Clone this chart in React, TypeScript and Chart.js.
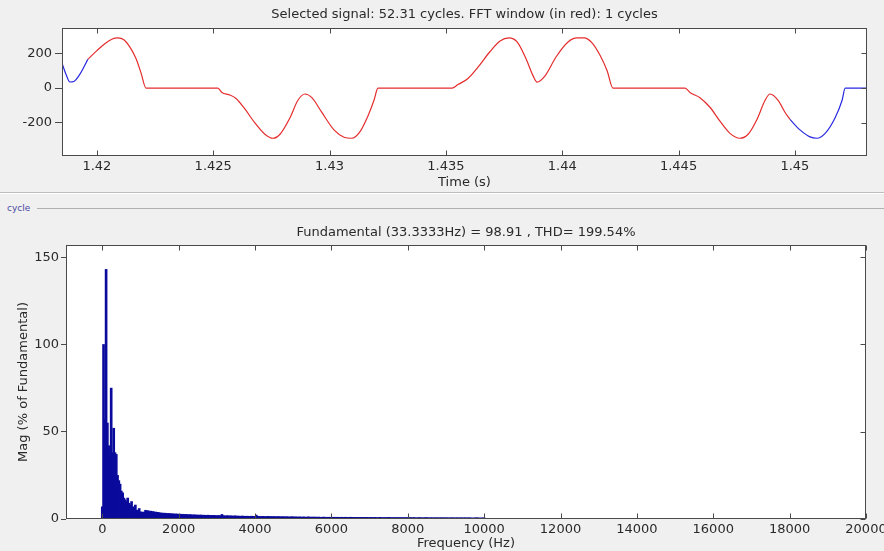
import React, { useEffect, useRef } from "react";
import { Chart, registerables } from "chart.js";

Chart.register(...registerables);

// ---------- text ----------
const SIGNAL_TITLE = "Selected signal: 52.31 cycles. FFT window (in red): 1 cycles";
const SIGNAL_X_TITLE = "Time (s)";
const FFT_TITLE = "Fundamental (33.3333Hz) = 98.91 , THD= 199.54%";
const FFT_X_TITLE = "Frequency (Hz)";
const FFT_Y_TITLE = "Mag (% of Fundamental)";
const SIDE_TEXT = "cycle";

// ---------- ticks ----------
const timeTicks = [1.42, 1.425, 1.43, 1.435, 1.44, 1.445, 1.45];
const timeTickLabels = ["1.42", "1.425", "1.43", "1.435", "1.44", "1.445", "1.45"];
const signalTicks = [-200, 0, 200];
const freqTicks = [0, 2000, 4000, 6000, 8000, 10000, 12000, 14000, 16000, 18000, 20000];
const magTicks = [0, 50, 100, 150];

// ---------- signal (time s, value) ----------
const blueStartTime = [1.4185, 1.41867, 1.41884, 1.41901, 1.41927, 1.41961];
const blueStartValue = [143, 80, 35, 38, 80, 165];

const redTime = [
  1.41961, 1.42, 1.42034, 1.42064, 1.4209, 1.42116, 1.42142, 1.42168, 1.42189, 1.42211,
  1.4252, 1.42537, 1.42572, 1.42598, 1.42636, 1.42679, 1.42722, 1.42757, 1.42787, 1.4283,
  1.42864, 1.42894, 1.42924, 1.42967, 1.43019, 1.43062, 1.43096, 1.43131, 1.43165, 1.43191,
  1.43208, 1.43526, 1.43552, 1.43595, 1.43638, 1.4369, 1.43733, 1.43771, 1.43806, 1.43844,
  1.43875, 1.43892, 1.43926, 1.43974, 1.44025, 1.44064, 1.44094, 1.44128, 1.44162, 1.44193,
  1.44218, 1.44528, 1.44549, 1.44592, 1.44635, 1.44678, 1.44721, 1.44764, 1.44799, 1.44837,
  1.44872, 1.44893, 1.44928, 1.44958, 1.44979,
];
const redValue = [
  165, 215, 255, 280, 288, 278, 235, 170, 90, 0,
  0, -25, -40, -60, -120, -200, -265, -288, -265, -170,
  -70, -34, -55, -140, -240, -282, -288, -250, -160, -70,
  0, 0, 20, 55, 120, 210, 270, 288, 265, 170,
  70, 34, 70, 180, 265, 288, 288, 260, 190, 100,
  0, 0, -25, -55, -110, -190, -260, -288, -265, -180,
  -70, -34, -70, -140, -180,
];

const blueEndTime = [1.44979, 1.45022, 1.45065, 1.45095, 1.4513, 1.45173, 1.45203, 1.45216, 1.4531];
const blueEndValue = [-180, -240, -280, -288, -260, -170, -70, 0, 0];

// ---------- FFT harmonic magnitudes (% of fundamental), order 0..300 ----------
const harmonicMagLow = [
  7, 100, 57, 143, 55, 42, 36, 75, 38, 52,
  38, 37, 25, 22, 20, 16, 15, 12, 11, 10,
  12, 9, 8, 10, 7, 6, 8, 5, 5, 6,
  4, 4, 3.5, 4, 5, 4.5, 4.8, 4.2, 4.5, 4,
  4.3, 3.8, 4, 3.6, 3.8, 3.4,
];
const harmonicMagMid = [
  3.5, 3.2, 3.4, 3.1, 3.3, 3.0, 3.2, 2.9, 3.1, 2.8,
  3.0, 2.7, 2.9, 2.8, 2.6, 2.8, 2.5, 2.7, 2.6, 2.4,
  2.6, 2.5, 2.3, 2.5, 2.4, 2.2, 2.4, 2.3, 2.2, 2.3,
  2.1, 2.3, 2.2, 2.0, 2.2, 2.1, 2.0, 2.2, 1.9, 2.1,
  2.0, 1.9, 2.1, 1.9, 1.8, 2.0, 1.9, 1.8, 2.6, 1.9,
  1.8, 1.7, 1.9, 1.8, 1.7, 1.8, 1.7, 1.6, 1.8, 1.7,
];
const harmonicMagHigh = [
  1.6, 1.7, 1.5, 1.6, 1.7, 1.5, 1.6, 1.4, 1.6, 1.5, 1.4, 1.6, 1.5, 1.4, 1.5,
  2.2, 1.4, 1.5, 1.3, 1.4, 1.5, 1.3, 1.4, 1.3, 1.5, 1.4, 1.3, 1.4, 1.2, 1.4,
  1.3, 1.2, 1.4, 1.3, 1.2, 1.3, 1.2, 1.3, 1.1, 1.3, 1.2, 1.1, 1.2, 1.3, 1.1,
  1.2, 1.1, 1.2, 1.0, 1.2, 1.1, 1.0, 1.2, 1.1, 1.0, 1.1, 1.2, 1.0, 1.1, 1.0,
  1.1, 1.0, 1.1, 0.9, 1.1, 1.0, 0.9, 1.0, 1.1, 0.9, 1.0, 0.9, 1.0, 1.0, 0.9,
  1.0, 0.9, 1.0, 0.9, 1.0, 0.9, 0.9, 1.0, 0.8, 0.9, 1.0, 0.9, 0.8, 0.9, 1.0,
  0.9, 0.8, 0.9, 0.9, 0.8, 0.9, 0.8, 0.9, 0.9, 0.8, 0.9, 0.8, 0.9, 0.8, 0.8,
  0.9, 0.8, 0.8, 0.9, 0.8, 0.7, 0.8, 0.9, 0.8, 0.7, 0.8, 0.8, 0.7, 0.8, 0.9,
  0.8, 0.7, 0.8, 0.7, 0.8, 0.8, 0.7, 0.8, 0.7, 0.8, 0.7, 0.7, 0.8, 0.7, 0.8,
  0.7, 0.8, 0.7, 0.7, 0.8, 0.7, 0.6, 0.7, 0.8, 0.7, 0.7, 0.6, 0.7, 0.8, 0.7,
  0.7, 0.6, 0.7, 0.7, 0.6, 0.7, 0.7, 0.6, 0.7, 0.6, 0.7, 0.7, 0.6, 0.7, 0.6,
  0.7, 0.6, 0.6, 0.7, 0.6, 0.7, 0.6, 0.6, 0.7, 0.6, 0.6, 0.7, 0.6, 0.6, 0.7,
  0.6, 0.6, 0.7, 0.6, 0.6, 0.5, 0.6, 0.6, 0.7, 0.6, 0.6, 0.5, 0.6, 0.6, 0.6,
];
const FUNDAMENTAL_HZ = 33.3333;

// ---------- styling ----------
const FONT = "DejaVu Sans";
const FS = 13;
const TEXT = "#2a2a2a";
const AXIS = "#4a4a4a";
const RED = "rgb(228,44,44)";
const BLUE = "rgb(40,40,225)";
const BAR = "#0a0a9c";

const zip = (xs: number[], ys: number[]) => xs.map((x, i) => ({ x, y: ys[i] }));

const matlabAxes = {
  id: "matlabAxes",
  afterLayout(chart: any) {
    // center the title over the axes box, as MATLAB does
    if (chart.titleBlock) {
      chart.titleBlock.left = chart.chartArea.left;
      chart.titleBlock.right = chart.chartArea.right;
    }
  },
  beforeDraw(chart: any) {
    const { ctx, chartArea: a } = chart;
    ctx.save();
    ctx.fillStyle = "#ffffff";
    ctx.fillRect(a.left, a.top, a.right - a.left, a.bottom - a.top);
    ctx.restore();
  },
  afterDraw(chart: any) {
    const { ctx, chartArea: a, scales } = chart;
    const L = Math.round(a.left) + 0.5;
    const R = Math.round(a.right) - 0.5;
    const T = Math.round(a.top) + 0.5;
    const B = Math.round(a.bottom) - 0.5;
    const len = 5;
    ctx.save();
    ctx.strokeStyle = AXIS;
    ctx.lineWidth = 1;
    ctx.strokeRect(L, T, R - L, B - T);
    ctx.beginPath();
    scales.x.ticks.forEach((t: any) => {
      const px = Math.round(scales.x.getPixelForValue(t.value)) + 0.5;
      ctx.moveTo(px, T);
      ctx.lineTo(px, T + len);
      ctx.moveTo(px, B);
      ctx.lineTo(px, B - len);
    });
    scales.y.ticks.forEach((t: any) => {
      const py = Math.round(scales.y.getPixelForValue(t.value)) + 0.5;
      ctx.moveTo(R, py);
      ctx.lineTo(R - len, py);
    });
    ctx.stroke();
    ctx.restore();
  },
};

const tickFont = { family: FONT, size: FS };
const titleFont = { family: FONT, size: FS, weight: "normal" as any, lineHeight: 1.2 };

function SignalChart() {
  const ref = useRef<HTMLCanvasElement>(null);
  useEffect(() => {
    const chart = new Chart(ref.current as HTMLCanvasElement, {
      type: "line",
      data: {
        datasets: [
          { data: zip(blueStartTime, blueStartValue), borderColor: BLUE, borderWidth: 1.2, pointRadius: 0, cubicInterpolationMode: "monotone" },
          { data: zip(redTime, redValue), borderColor: RED, borderWidth: 1.2, pointRadius: 0, cubicInterpolationMode: "monotone" },
          { data: zip(blueEndTime, blueEndValue), borderColor: BLUE, borderWidth: 1.2, pointRadius: 0, cubicInterpolationMode: "monotone" },
        ],
      } as any,
      options: {
        animation: false,
        responsive: false,
        maintainAspectRatio: false,
        layout: { padding: { left: 0, right: 17, top: 0, bottom: 0 } },
        plugins: {
          legend: { display: false },
          tooltip: { enabled: false },
          title: {
            display: true,
            text: SIGNAL_TITLE,
            color: TEXT,
            font: titleFont,
            padding: { top: 7.2, bottom: 5.2 },
          },
        },
        scales: {
          x: {
            type: "linear",
            min: 1.4185,
            max: 1.4531,
            afterBuildTicks: (s: any) => { s.ticks = timeTicks.map((v) => ({ value: v })); },
            afterFit: (s: any) => { s.height = 36; s.paddingLeft = 0; s.paddingRight = 0; },
            grid: { display: false, drawTicks: false },
            border: { display: false },
            ticks: {
              color: TEXT,
              font: tickFont,
              padding: 3,
              maxRotation: 0,
              autoSkip: false,
              callback: (v: any) => {
                const i = timeTicks.findIndex((t) => Math.abs(t - Number(v)) < 1e-9);
                return i >= 0 ? timeTickLabels[i] : "";
              },
            },
            title: { display: true, text: SIGNAL_X_TITLE, color: TEXT, font: titleFont, padding: { top: 0, bottom: 1.2 } },
          },
          y: {
            type: "linear",
            min: -390,
            max: 345,
            afterBuildTicks: (s: any) => { s.ticks = signalTicks.map((v) => ({ value: v })); },
            afterFit: (s: any) => { s.width = 62; },
            grid: { drawOnChartArea: false, drawTicks: true, tickLength: 7, color: AXIS },
            border: { display: false },
            ticks: { color: TEXT, font: tickFont, padding: 3 },
          },
        },
      },
      plugins: [matlabAxes],
    } as any);
    return () => chart.destroy();
  }, []);
  return <canvas ref={ref} width={884} height={192} style={{ position: "absolute", left: 0, top: 0 }} />;
}

function FftChart() {
  const ref = useRef<HTMLCanvasElement>(null);
  useEffect(() => {
    const harmonicMag = [...harmonicMagLow, ...harmonicMagMid, ...harmonicMagHigh];
    const bars = harmonicMag.map((m, order) => ({ x: order * FUNDAMENTAL_HZ, y: m }));
    const chart = new Chart(ref.current as HTMLCanvasElement, {
      type: "bar",
      data: {
        datasets: [
          { data: bars, backgroundColor: BAR, borderWidth: 0, barThickness: 2 },
        ],
      } as any,
      options: {
        animation: false,
        responsive: false,
        maintainAspectRatio: false,
        layout: { padding: { left: 0, right: 18, top: 0, bottom: 0 } },
        plugins: {
          legend: { display: false },
          tooltip: { enabled: false },
          title: {
            display: true,
            text: FFT_TITLE,
            color: TEXT,
            font: titleFont,
            padding: { top: 25.2, bottom: 4.2 },
          },
        },
        scales: {
          x: {
            type: "linear",
            min: -950,
            max: 20000,
            offset: false,
            afterBuildTicks: (s: any) => { s.ticks = freqTicks.map((v) => ({ value: v })); },
            afterFit: (s: any) => { s.height = 32; s.paddingLeft = 0; s.paddingRight = 0; },
            grid: { display: false, drawTicks: false },
            border: { display: false },
            ticks: { color: TEXT, font: tickFont, padding: 3, maxRotation: 0, autoSkip: false, callback: (v: any) => String(v) },
            title: { display: true, text: FFT_X_TITLE, color: TEXT, font: titleFont, padding: { top: 0, bottom: 0 } },
          },
          y: {
            type: "linear",
            min: 0,
            max: 157,
            afterBuildTicks: (s: any) => { s.ticks = magTicks.map((v) => ({ value: v })); },
            afterFit: (s: any) => { s.width = 66; s.paddingTop = 0; s.paddingBottom = 0; },
            grid: { drawOnChartArea: false, drawTicks: true, tickLength: 5, color: AXIS },
            border: { display: false },
            ticks: { color: TEXT, font: tickFont, padding: 2, callback: (v: any) => String(v) },
            title: { display: true, text: FFT_Y_TITLE, color: TEXT, font: titleFont, padding: { top: 16.2, bottom: 0 } },
          },
        },
      },
      plugins: [matlabAxes],
    } as any);
    return () => chart.destroy();
  }, []);
  return <canvas ref={ref} width={884} height={351} style={{ position: "absolute", left: 0, top: 200 }} />;
}

export default function App() {
  return (
    <div style={{ position: "absolute", left: 0, top: 0, width: 884, height: 551, background: "#f0f0f0", overflow: "hidden" }}>
      <SignalChart />
      <div style={{ position: "absolute", left: 0, top: 192, width: 884, height: 0, borderTop: "1px solid #bdbdbd", borderBottom: "1px solid #ffffff" }} />
      <div style={{ position: "absolute", left: 7, top: 202, fontFamily: FONT, fontSize: 9, color: "#4a4aa0", lineHeight: "12px" }}>{SIDE_TEXT}</div>
      <div style={{ position: "absolute", left: 37, top: 208, width: 847, height: 0, borderTop: "1px solid #b0b0b0" }} />
      <FftChart />
    </div>
  );
}
